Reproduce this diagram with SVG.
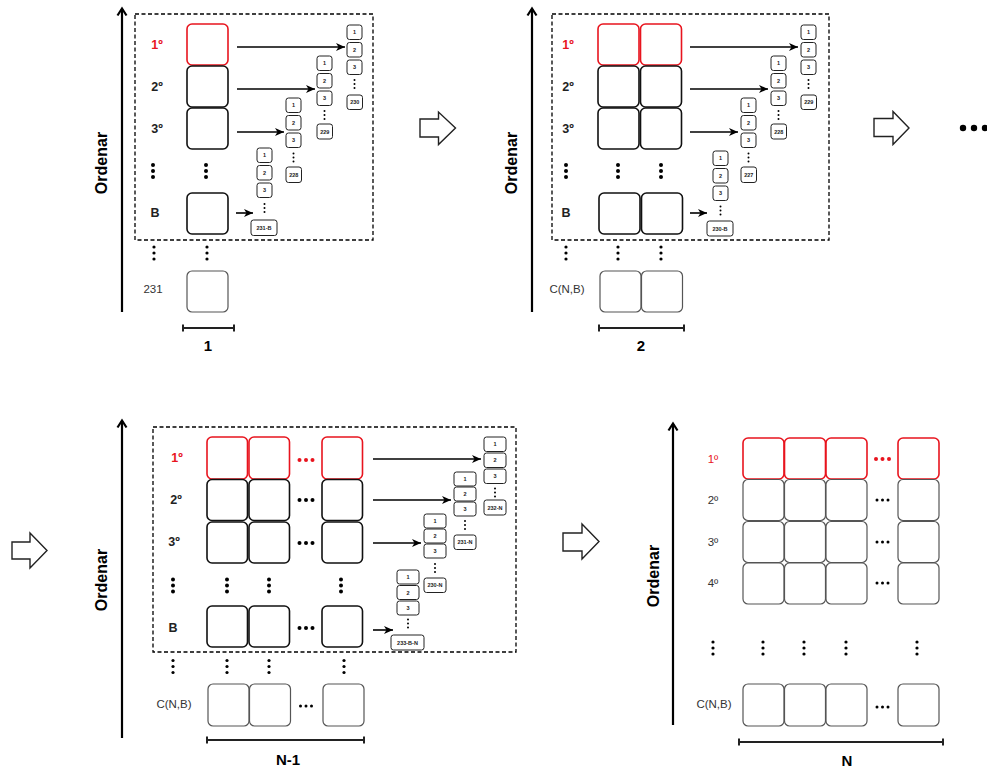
<svg xmlns="http://www.w3.org/2000/svg" xmlns:xlink="http://www.w3.org/1999/xlink" width="987" height="769" viewBox="0 0 987 769">
<style>
text{font-family:"Liberation Sans",Arial,sans-serif;text-anchor:middle}
.bx{fill:#fff;stroke:#111;stroke-width:1.6}
.red{fill:#fff;stroke:#e8141e;stroke-width:1.6}
.lt{fill:#fff;stroke:#555;stroke-width:1.2}
.sb{fill:#fff;stroke:#222;stroke-width:1}
.st{font-size:5.5px;font-weight:bold;fill:#222}
.lb{font-size:12.5px;font-weight:bold;fill:#222}
.lr{font-size:12.5px;font-weight:bold;fill:#e8141e}
.ln{font-size:11.5px;fill:#333}
.ord{font-size:16px;font-weight:bold;fill:#000}
.num{font-size:15px;font-weight:bold;fill:#000}
.dash{fill:none;stroke:#000;stroke-width:1.3;stroke-dasharray:4 2.5}
.ax{stroke:#000;stroke-width:2.2;fill:none}
.ar{stroke:#000;stroke-width:1.6;fill:none}
.br{stroke:#222;stroke-width:2;fill:none}
.blk{fill:#fff;stroke:#222;stroke-width:1.4}
</style>
<defs>
<marker id="ah" markerUnits="userSpaceOnUse" markerWidth="10" markerHeight="10" refX="9" refY="4" orient="auto">
<path d="M0,0 L9,4 L0,8 L2.5,4 z" fill="#000"/>
</marker>
<g id="vd"><circle cy="-6" r="2"/><circle r="2"/><circle cy="6" r="2"/></g>
<g id="vds"><circle cy="-6" r="1.6"/><circle r="1.6"/><circle cy="6" r="1.6"/></g>
<g id="vdt"><circle cy="-4" r="1"/><circle r="1"/><circle cy="4" r="1"/></g>
<g id="hd"><circle cx="-6.5" r="2"/><circle r="2"/><circle cx="6.5" r="2"/></g>
<g id="hds"><circle cx="-5.5" r="1.5"/><circle r="1.5"/><circle cx="5.5" r="1.5"/></g>
</defs>

<!-- ================= PANEL 1 ================= -->
<g id="panel1">
<g id="p1-axis">
<line class="ax" x1="122" y1="9" x2="122" y2="312"/>
<polyline class="ax" points="117.5,15.5 122,8.5 126.5,15.5"/>
<text class="ord" transform="translate(107,163) rotate(-90)">Ordenar</text>
</g>
<rect class="dash" x="135" y="14" width="238" height="226"/>
<g id="p1-rows">
<text class="lr" x="157" y="49">1º</text>
<text class="lb" x="157" y="91">2º</text>
<text class="lb" x="157" y="133">3º</text>
<text class="lb" x="155" y="217">B</text>
<rect class="red" x="187" y="24" width="41" height="41" rx="5"/>
<rect class="bx" x="187" y="66" width="41" height="41" rx="5"/>
<rect class="bx" x="187" y="108" width="41" height="41" rx="5"/>
<rect class="bx" x="187" y="193" width="41" height="41" rx="5"/>
<use xlink:href="#vd" x="153" y="171"/>
<use xlink:href="#vd" x="206" y="171"/>
<use xlink:href="#vds" x="154" y="253"/>
<use xlink:href="#vds" x="207" y="253"/>
<text class="ln" x="153" y="293">231</text>
<rect class="lt" x="187" y="271" width="41" height="41" rx="5"/>
</g>
<g id="p1-stack1">
<rect class="sb" x="347" y="25" width="15" height="14.5" rx="2.5"/><text class="st" x="354.5" y="34.3">1</text>
<rect class="sb" x="347" y="42.5" width="15" height="14.5" rx="2.5"/><text class="st" x="354.5" y="51.8">2</text>
<rect class="sb" x="347" y="60" width="15" height="14.5" rx="2.5"/><text class="st" x="354.5" y="69.3">3</text>
<use xlink:href="#vdt" x="354.5" y="84"/>
<rect class="sb" x="347" y="95" width="15.5" height="14.5" rx="2.5"/><text class="st" x="354.8" y="104.3">230</text>
</g>
<g id="p1-stack2">
<rect class="sb" x="317" y="56" width="15" height="14.5" rx="2.5"/><text class="st" x="324.5" y="65.3">1</text>
<rect class="sb" x="317" y="73.5" width="15" height="14.5" rx="2.5"/><text class="st" x="324.5" y="82.8">2</text>
<rect class="sb" x="317" y="91" width="15" height="14.5" rx="2.5"/><text class="st" x="324.5" y="100.3">3</text>
<use xlink:href="#vdt" x="324.5" y="115"/>
<rect class="sb" x="317" y="124" width="15.5" height="15" rx="2.5"/><text class="st" x="324.8" y="133.5">229</text>
</g>
<g id="p1-stack3">
<rect class="sb" x="286" y="98" width="15" height="14.5" rx="2.5"/><text class="st" x="293.5" y="107.3">1</text>
<rect class="sb" x="286" y="115.5" width="15" height="14.5" rx="2.5"/><text class="st" x="293.5" y="124.8">2</text>
<rect class="sb" x="286" y="133" width="15" height="14.5" rx="2.5"/><text class="st" x="293.5" y="142.3">3</text>
<use xlink:href="#vdt" x="293.5" y="157.5"/>
<rect class="sb" x="286" y="167" width="15.5" height="15.5" rx="2.5"/><text class="st" x="293.8" y="176.8">228</text>
</g>
<g id="p1-stack4">
<rect class="sb" x="257" y="148" width="15" height="14.5" rx="2.5"/><text class="st" x="264.5" y="157.3">1</text>
<rect class="sb" x="257" y="165.5" width="15" height="14.5" rx="2.5"/><text class="st" x="264.5" y="174.8">2</text>
<rect class="sb" x="257" y="183" width="15" height="14.5" rx="2.5"/><text class="st" x="264.5" y="192.3">3</text>
<use xlink:href="#vdt" x="264.5" y="208"/>
<rect class="sb" x="251" y="220" width="26" height="15.5" rx="2.5"/><text class="st" x="264" y="229.8">231-B</text>
</g>
<g id="p1-scale">
<path class="br" d="M183,324.5 V331.5 M183,328 H234 M234,324.5 V331.5"/>
<text class="num" x="208" y="351">1</text>
</g>
</g>

<!-- ================= PANEL 2 ================= -->
<g id="panel2">
<g id="p2-axis">
<line class="ax" x1="532" y1="9" x2="532" y2="312"/>
<polyline class="ax" points="527.5,15.5 532,8.5 536.5,15.5"/>
<text class="ord" transform="translate(517,163) rotate(-90)">Ordenar</text>
</g>
<rect class="dash" x="552" y="14" width="277" height="226"/>
<g id="p2-rows">
<text class="lr" x="568" y="49">1º</text>
<text class="lb" x="568" y="91">2º</text>
<text class="lb" x="568" y="133">3º</text>
<text class="lb" x="566" y="217">B</text>
<rect class="red" x="598" y="24" width="41" height="41" rx="5"/>
<rect class="red" x="640.5" y="24" width="41" height="41" rx="5"/>
<rect class="bx" x="598" y="66" width="41" height="41" rx="5"/>
<rect class="bx" x="640.5" y="66" width="41" height="41" rx="5"/>
<rect class="bx" x="598" y="108" width="41" height="41" rx="5"/>
<rect class="bx" x="640.5" y="108" width="41" height="41" rx="5"/>
<rect class="bx" x="599" y="193" width="41" height="41" rx="5"/>
<rect class="bx" x="641.5" y="193" width="41" height="41" rx="5"/>
<use xlink:href="#vd" x="566" y="171"/>
<use xlink:href="#vd" x="618" y="171"/>
<use xlink:href="#vd" x="661" y="171"/>
<use xlink:href="#vds" x="566" y="253"/>
<use xlink:href="#vds" x="618" y="253"/>
<use xlink:href="#vds" x="661" y="253"/>
<text class="ln" x="567" y="293">C(N,B)</text>
<rect class="lt" x="600" y="271" width="41" height="41" rx="5"/>
<rect class="lt" x="641.5" y="271" width="41" height="41" rx="5"/>
</g>
<g id="p2-stack1">
<rect class="sb" x="801" y="25" width="15" height="14.5" rx="2.5"/><text class="st" x="808.5" y="34.3">1</text>
<rect class="sb" x="801" y="42.5" width="15" height="14.5" rx="2.5"/><text class="st" x="808.5" y="51.8">2</text>
<rect class="sb" x="801" y="60" width="15" height="14.5" rx="2.5"/><text class="st" x="808.5" y="69.3">3</text>
<use xlink:href="#vdt" x="808.5" y="84"/>
<rect class="sb" x="801" y="95" width="15.5" height="14.5" rx="2.5"/><text class="st" x="808.8" y="104.3">229</text>
</g>
<g id="p2-stack2">
<rect class="sb" x="771" y="56" width="15" height="14.5" rx="2.5"/><text class="st" x="778.5" y="65.3">1</text>
<rect class="sb" x="771" y="73.5" width="15" height="14.5" rx="2.5"/><text class="st" x="778.5" y="82.8">2</text>
<rect class="sb" x="771" y="91" width="15" height="14.5" rx="2.5"/><text class="st" x="778.5" y="100.3">3</text>
<use xlink:href="#vdt" x="778.5" y="115"/>
<rect class="sb" x="771" y="124" width="15.5" height="15" rx="2.5"/><text class="st" x="778.8" y="133.5">228</text>
</g>
<g id="p2-stack3">
<rect class="sb" x="741" y="98" width="15" height="14.5" rx="2.5"/><text class="st" x="748.5" y="107.3">1</text>
<rect class="sb" x="741" y="115.5" width="15" height="14.5" rx="2.5"/><text class="st" x="748.5" y="124.8">2</text>
<rect class="sb" x="741" y="133" width="15" height="14.5" rx="2.5"/><text class="st" x="748.5" y="142.3">3</text>
<use xlink:href="#vdt" x="748.5" y="157.5"/>
<rect class="sb" x="741" y="167" width="15.5" height="15.5" rx="2.5"/><text class="st" x="748.8" y="176.8">227</text>
</g>
<g id="p2-stack4">
<rect class="sb" x="713" y="151" width="15" height="14.5" rx="2.5"/><text class="st" x="720.5" y="160.3">1</text>
<rect class="sb" x="713" y="168.5" width="15" height="14.5" rx="2.5"/><text class="st" x="720.5" y="177.8">2</text>
<rect class="sb" x="713" y="186" width="15" height="14.5" rx="2.5"/><text class="st" x="720.5" y="195.3">3</text>
<use xlink:href="#vdt" x="720.5" y="210.5"/>
<rect class="sb" x="707" y="221" width="26" height="15" rx="2.5"/><text class="st" x="720" y="230.5">230-B</text>
</g>
<g id="p2-scale">
<path class="br" d="M599,324.5 V331.5 M599,328 H684 M684,324.5 V331.5"/>
<text class="num" x="641" y="351">2</text>
</g>
</g>

<!-- ================= PANEL 3 ================= -->
<g id="panel3">
<g id="p3-axis">
<line class="ax" x1="122" y1="421" x2="122" y2="738"/>
<polyline class="ax" points="117.5,427.5 122,420.5 126.5,427.5"/>
<text class="ord" transform="translate(107,580) rotate(-90)">Ordenar</text>
</g>
<rect class="dash" x="153" y="427" width="363" height="225"/>
<g id="p3-rows">
<text class="lr" x="177" y="462">1º</text>
<text class="lb" x="176" y="504">2º</text>
<text class="lb" x="174" y="546">3º</text>
<text class="lb" x="173" y="632">B</text>
<rect class="red" x="207" y="437" width="40.5" height="42" rx="5"/>
<rect class="red" x="249" y="437" width="40.5" height="42" rx="5"/>
<rect class="red" x="322" y="437" width="40.5" height="42" rx="5"/>
<rect class="bx" x="207" y="479.5" width="40.5" height="41" rx="5"/>
<rect class="bx" x="249" y="479.5" width="40.5" height="41" rx="5"/>
<rect class="bx" x="322" y="479.5" width="40.5" height="41" rx="5"/>
<rect class="bx" x="207" y="522" width="40.5" height="41" rx="5"/>
<rect class="bx" x="249" y="522" width="40.5" height="41" rx="5"/>
<rect class="bx" x="322" y="522" width="40.5" height="41" rx="5"/>
<rect class="bx" x="207" y="606" width="40.5" height="41" rx="5"/>
<rect class="bx" x="249" y="606" width="40.5" height="41" rx="5"/>
<rect class="bx" x="322" y="606" width="40.5" height="41" rx="5"/>
<use xlink:href="#hd" x="306" y="460" fill="#e8141e"/>
<use xlink:href="#hd" x="306" y="500"/>
<use xlink:href="#hd" x="306" y="543"/>
<use xlink:href="#hd" x="306" y="628"/>
<use xlink:href="#vd" x="173" y="585.5"/>
<use xlink:href="#vd" x="227" y="585.5"/>
<use xlink:href="#vd" x="269" y="585.5"/>
<use xlink:href="#vd" x="341" y="585.5"/>
<use xlink:href="#vds" x="173" y="666.5"/>
<use xlink:href="#vds" x="227" y="666.5"/>
<use xlink:href="#vds" x="269" y="666.5"/>
<use xlink:href="#vds" x="344" y="666.5"/>
<text class="ln" x="174" y="708">C(N,B)</text>
<rect class="lt" x="208" y="684" width="41" height="42" rx="5"/>
<rect class="lt" x="249.5" y="684" width="41" height="42" rx="5"/>
<rect class="lt" x="323" y="684" width="41" height="42" rx="5"/>
<use xlink:href="#hds" x="306" y="706"/>
</g>
<g id="p3-stack1">
<rect class="sb" x="484" y="437" width="22" height="14.5" rx="2.5"/><text class="st" x="495" y="446.3">1</text>
<rect class="sb" x="484" y="453" width="22" height="14.5" rx="2.5"/><text class="st" x="495" y="462.3">2</text>
<rect class="sb" x="484" y="469" width="22" height="14.5" rx="2.5"/><text class="st" x="495" y="478.3">3</text>
<use xlink:href="#vdt" x="495" y="492.5"/>
<rect class="sb" x="484" y="500" width="22" height="15" rx="2.5"/><text class="st" x="495" y="509.5">232-N</text>
</g>
<g id="p3-stack2">
<rect class="sb" x="454" y="472" width="22" height="14" rx="2.5"/><text class="st" x="465" y="481">1</text>
<rect class="sb" x="454" y="487" width="22" height="14" rx="2.5"/><text class="st" x="465" y="496">2</text>
<rect class="sb" x="454" y="502" width="22" height="14" rx="2.5"/><text class="st" x="465" y="511">3</text>
<use xlink:href="#vdt" x="465" y="525"/>
<rect class="sb" x="454" y="535" width="22" height="14.5" rx="2.5"/><text class="st" x="465" y="544.3">231-N</text>
</g>
<g id="p3-stack3">
<rect class="sb" x="424" y="514" width="22" height="14" rx="2.5"/><text class="st" x="435" y="523">1</text>
<rect class="sb" x="424" y="529" width="22" height="14" rx="2.5"/><text class="st" x="435" y="538">2</text>
<rect class="sb" x="424" y="544" width="22" height="14" rx="2.5"/><text class="st" x="435" y="553">3</text>
<use xlink:href="#vdt" x="435" y="568"/>
<rect class="sb" x="424" y="578" width="22" height="14.5" rx="2.5"/><text class="st" x="435" y="587.3">230-N</text>
</g>
<g id="p3-stack4">
<rect class="sb" x="397" y="570" width="22" height="14" rx="2.5"/><text class="st" x="408" y="579">1</text>
<rect class="sb" x="397" y="585.5" width="22" height="14" rx="2.5"/><text class="st" x="408" y="594.5">2</text>
<rect class="sb" x="397" y="601" width="22" height="14" rx="2.5"/><text class="st" x="408" y="610">3</text>
<use xlink:href="#vdt" x="408" y="623.5"/>
<rect class="sb" x="391" y="635" width="33" height="15" rx="2.5"/><text class="st" x="407.5" y="644.5">233-B-N</text>
</g>
<g id="p3-scale">
<path class="br" d="M207,736.5 V743.5 M207,740 H364 M364,736.5 V743.5"/>
<text class="num" x="288" y="765">N-1</text>
</g>
</g>

<!-- ================= PANEL 4 ================= -->
<g id="panel4">
<g id="p4-axis">
<line class="ax" x1="673" y1="424" x2="673" y2="725"/>
<polyline class="ax" points="668.5,430.5 673,423.5 677.5,430.5"/>
<text class="ord" transform="translate(659,576) rotate(-90)">Ordenar</text>
</g>
<g id="p4-rows">
<text x="713" y="463" style="font-size:11.5px;fill:#e8141e">1º</text>
<text class="ln" x="713" y="504">2º</text>
<text class="ln" x="713" y="546">3º</text>
<text class="ln" x="713" y="587">4º</text>
<rect class="red" x="743" y="438" width="41" height="41" rx="5"/>
<rect class="red" x="784.5" y="438" width="41" height="41" rx="5"/>
<rect class="red" x="826" y="438" width="41" height="41" rx="5"/>
<rect class="red" x="898" y="438" width="41" height="41" rx="5"/>
<rect class="lt" x="743" y="479.5" width="41" height="41" rx="5"/>
<rect class="lt" x="784.5" y="479.5" width="41" height="41" rx="5"/>
<rect class="lt" x="826" y="479.5" width="41" height="41" rx="5"/>
<rect class="lt" x="898" y="479.5" width="41" height="41" rx="5"/>
<rect class="lt" x="743" y="521.5" width="41" height="41" rx="5"/>
<rect class="lt" x="784.5" y="521.5" width="41" height="41" rx="5"/>
<rect class="lt" x="826" y="521.5" width="41" height="41" rx="5"/>
<rect class="lt" x="898" y="521.5" width="41" height="41" rx="5"/>
<rect class="lt" x="743" y="563" width="41" height="41" rx="5"/>
<rect class="lt" x="784.5" y="563" width="41" height="41" rx="5"/>
<rect class="lt" x="826" y="563" width="41" height="41" rx="5"/>
<rect class="lt" x="898" y="563" width="41" height="41" rx="5"/>
<use xlink:href="#hd" x="882.5" y="459" fill="#e8141e"/>
<use xlink:href="#hds" x="882.5" y="500"/>
<use xlink:href="#hds" x="882.5" y="542"/>
<use xlink:href="#hds" x="882.5" y="583"/>
<use xlink:href="#vds" x="713" y="648"/>
<use xlink:href="#vds" x="763" y="648"/>
<use xlink:href="#vds" x="804" y="648"/>
<use xlink:href="#vds" x="846" y="648"/>
<use xlink:href="#vds" x="917" y="648"/>
<text class="ln" x="714" y="708">C(N,B)</text>
<rect class="lt" x="743" y="684" width="41" height="42" rx="5"/>
<rect class="lt" x="784.5" y="684" width="41" height="42" rx="5"/>
<rect class="lt" x="826" y="684" width="41" height="42" rx="5"/>
<rect class="lt" x="898" y="684" width="41" height="42" rx="5"/>
<use xlink:href="#hds" x="882.5" y="707"/>
</g>
<g id="p4-scale">
<path class="br" d="M739,738.5 V745.5 M739,742 H943 M943,738.5 V745.5"/>
<text class="num" x="847" y="766">N</text>
</g>
</g>

<!-- ================= TRANSITION ARROWS ================= -->
<g id="transitions">
<path class="blk" d="M420,119 H438.5 V112 L455.5,128 L438.5,144.5 V137 H420 Z"/>
<path class="blk" d="M874,118.5 H893 V111.5 L909,128 L893,144.5 V136.5 H874 Z"/>
<g id="more" fill="#000">
<circle cx="963" cy="128" r="3.2"/><circle cx="974" cy="128" r="3.2"/><circle cx="985" cy="128" r="3.2"/>
</g>
<path class="blk" d="M12,542 H30 V533 L47,550.5 L30,568 V559 H12 Z"/>
<path class="blk" d="M563,533 H582 V524 L599,541.5 L582,559 V551 H563 Z"/>
</g>

<!-- ================= CONNECTORS ================= -->
<g id="connectors">
<line class="ar" x1="237" y1="47" x2="345" y2="47" marker-end="url(#ah)"/>
<line class="ar" x1="237" y1="89" x2="315" y2="89" marker-end="url(#ah)"/>
<line class="ar" x1="237" y1="132" x2="284" y2="132" marker-end="url(#ah)"/>
<line class="ar" x1="236" y1="213" x2="253" y2="213" marker-end="url(#ah)"/>
<line class="ar" x1="690" y1="47" x2="798" y2="47" marker-end="url(#ah)"/>
<line class="ar" x1="690" y1="89" x2="768" y2="89" marker-end="url(#ah)"/>
<line class="ar" x1="690" y1="132" x2="738" y2="132" marker-end="url(#ah)"/>
<line class="ar" x1="690" y1="213" x2="707" y2="213" marker-end="url(#ah)"/>
<line class="ar" x1="373" y1="459" x2="481" y2="459" marker-end="url(#ah)"/>
<line class="ar" x1="373" y1="500" x2="451" y2="500" marker-end="url(#ah)"/>
<line class="ar" x1="373" y1="543" x2="421" y2="543" marker-end="url(#ah)"/>
<line class="ar" x1="373" y1="630" x2="393" y2="630" marker-end="url(#ah)"/>
</g>
</svg>
